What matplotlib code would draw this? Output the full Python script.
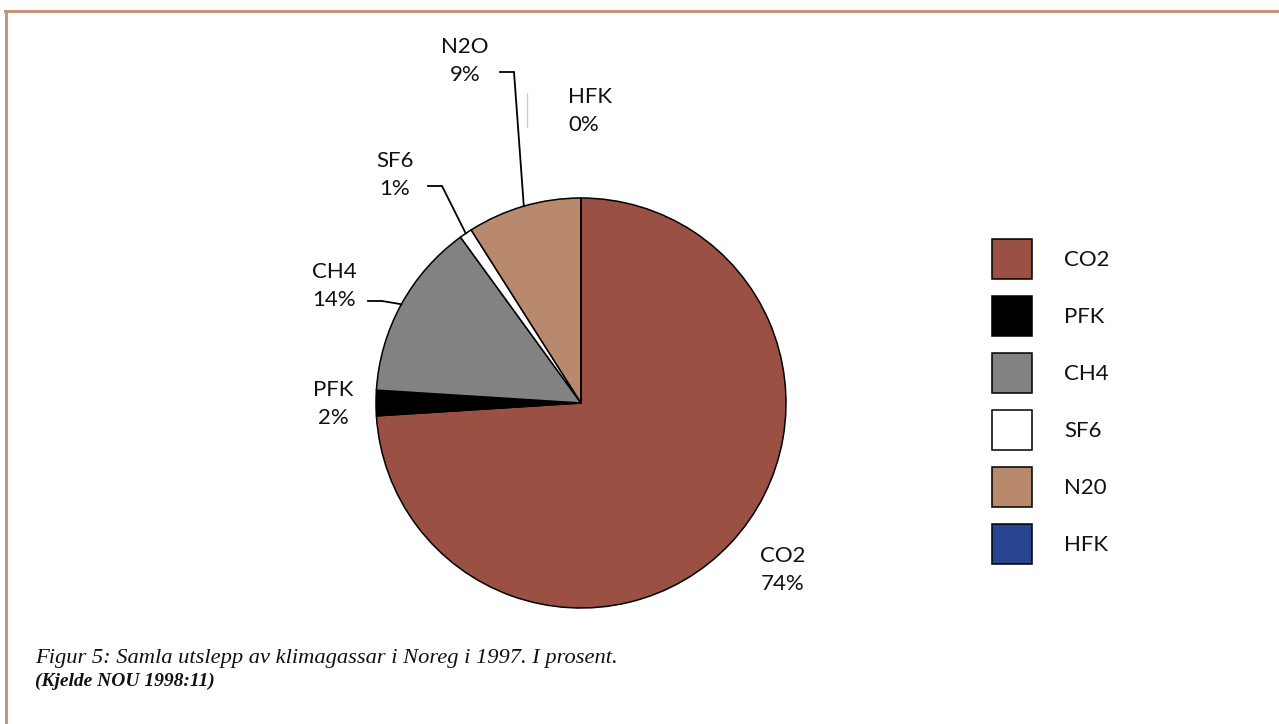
import numpy as np
import matplotlib
matplotlib.use("Agg")
import matplotlib.pyplot as plt
from matplotlib.lines import Line2D

# ---- data ----
gases = ["CO2", "PFK", "CH4", "SF6", "N2O", "HFK"]
legend_labels = ["CO2", "PFK", "CH4", "SF6", "N20", "HFK"]
shares = [74, 2, 14, 1, 9, 0]
colors = ["#9A5143", "#000000", "#828282", "#FFFFFF", "#B8896C", "#2A4590"]

caption = "Figur 5: Samla utslepp av klimagassar i Noreg i 1997. I prosent."
source = "(Kjelde NOU 1998:11)"

W, H = 1279, 724
plt.rcParams['font.family'] = ['Lato', 'DejaVu Sans']

fig = plt.figure(figsize=(W / 100, H / 100), dpi=100)
ax = fig.add_axes([0, 0, 1, 1])

def P(x, y):
    return (x, H - y)

cx, cy = P(581, 403)
R = 205
wedges, _ = ax.pie(shares, colors=colors, startangle=90, counterclock=False,
                   center=(cx, cy), radius=R,
                   wedgeprops=dict(edgecolor="black", linewidth=1.1))
ax.set_xlim(0, W)
ax.set_ylim(0, H)
ax.set_aspect('auto')
ax.axis('off')

fs = 16
# label positions (pixel centres of the two-line blocks)
label_pos = {
    "CO2": (783, 570, 'center'),
    "PFK": (333, 404, 'center'),
    "CH4": (334, 286, 'center'),
    "SF6": (395, 175, 'center'),
    "N2O": (465, 61, 'center'),
    "HFK": (568, 111, 'left'),
}
for g, s in zip(gases, shares):
    x, y, ha = label_pos[g]
    ax.text(*P(x, y), f"{g}\n{s}%", ha=ha, va='center', fontsize=fs,
            linespacing=1.5, color="#111111")

# leader lines to wedge mid-angles
leader_start = {"N2O": (500, 72), "SF6": (428, 186), "CH4": (368, 301)}
for i, g in enumerate(gases):
    if g not in leader_start:
        continue
    w = wedges[i]
    mid = np.deg2rad((w.theta1 + w.theta2) / 2)
    ex, ey = cx + R * np.cos(mid), cy + R * np.sin(mid)
    sx, sy = P(*leader_start[g])
    ax.plot([sx, sx + 14, ex], [sy, sy, ey], color="black", lw=1.3,
            solid_joinstyle='miter')
# faint HFK leader
hx = 527
ax.plot([hx, hx], [H - 93, H - 127], color="#cfcfcf", lw=1.0)

# legend
leg = ax.legend(wedges, legend_labels, loc='upper left',
                bbox_to_anchor=(992 / W, 1 - 239 / H), bbox_transform=fig.transFigure,
                frameon=False, fontsize=fs, handlelength=1.8, handleheight=2.39,
                labelspacing=0.77, handletextpad=1.45, borderpad=0,
                borderaxespad=0)
for t in leg.get_texts():
    t.set_color("#111111")

# caption
fig.text(35 / W, 1 - 663 / H, caption, fontsize=16.2, style='italic',
         family='Liberation Serif', color="#111111", va='baseline')
fig.text(35 / W, 1 - 686 / H, source, fontsize=14, style='italic',
         weight='bold', family='Liberation Serif', color="#111111", va='baseline')

# frame border (top and left)
bc = "#C69478"
fig.add_artist(Line2D([5 / W, 1], [1 - 11 / H, 1 - 11 / H], color=bc, lw=2.2,
                      transform=fig.transFigure))
fig.add_artist(Line2D([6 / W, 6 / W], [0, 1 - 11 / H], color=bc, lw=2.2,
                      transform=fig.transFigure))

fig.savefig("out.png", dpi=100)
